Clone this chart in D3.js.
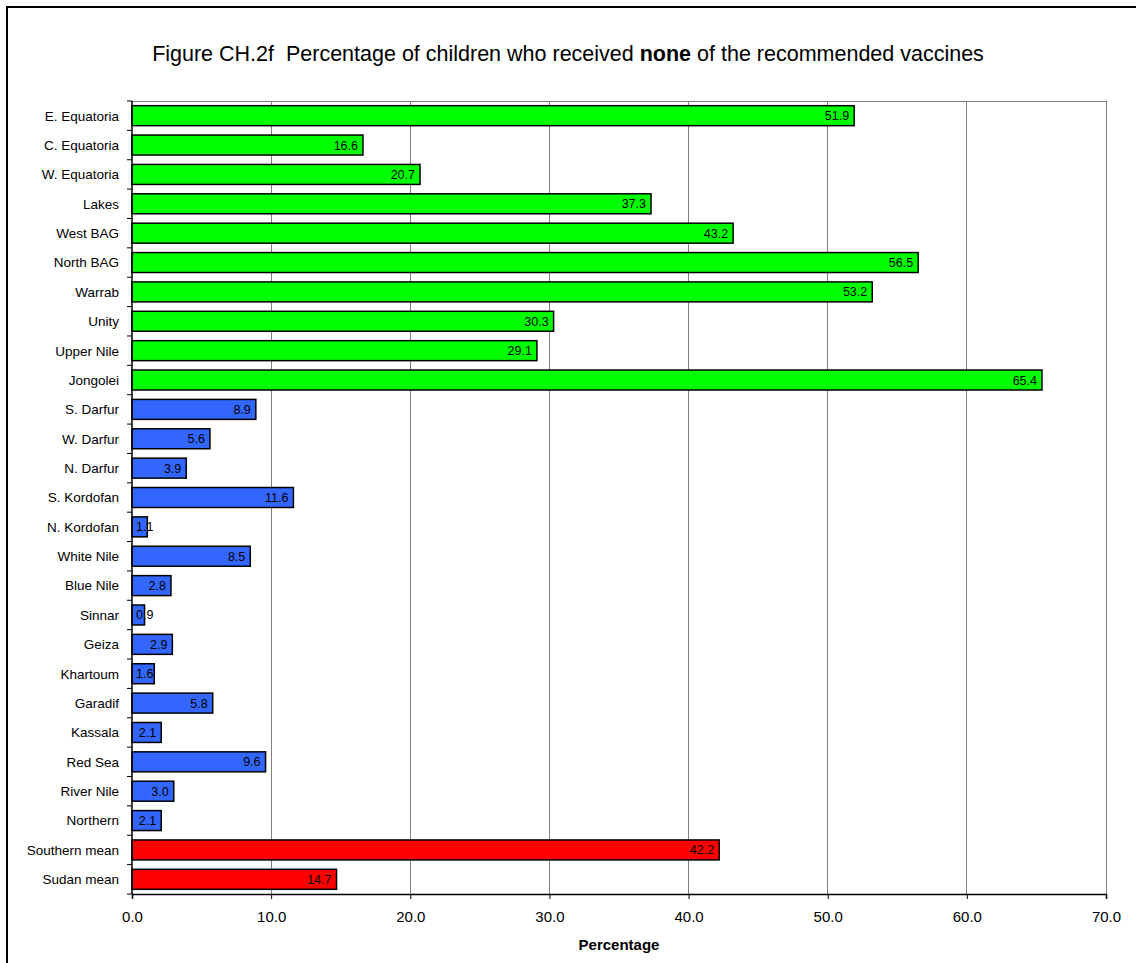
<!DOCTYPE html>
<html><head><meta charset="utf-8">
<script src="https://cdn.jsdelivr.net/npm/d3@7"></script>
<style>
html,body{margin:0;padding:0;background:#fff;}
text{font-family:"Liberation Sans",Arial,sans-serif;}
</style></head>
<body>
<svg id="chart" width="1136" height="963"></svg>
<script>
const categories = ["E. Equatoria","C. Equatoria","W. Equatoria","Lakes","West BAG","North BAG","Warrab","Unity","Upper Nile","Jongolei","S. Darfur","W. Darfur","N. Darfur","S. Kordofan","N. Kordofan","White Nile","Blue Nile","Sinnar","Geiza","Khartoum","Garadif","Kassala","Red Sea","River Nile","Northern","Southern mean","Sudan mean"];
const values = [51.9,16.6,20.7,37.3,43.2,56.5,53.2,30.3,29.1,65.4,8.9,5.6,3.9,11.6,1.1,8.5,2.8,0.9,2.9,1.6,5.8,2.1,9.6,3.0,2.1,42.2,14.7];
const groups = ["south","south","south","south","south","south","south","south","south","south","north","north","north","north","north","north","north","north","north","north","north","north","north","north","north","mean","mean"];
const xTicks = [0,10,20,30,40,50,60,70];

const colors = {south:"#00FF00", north:"#3366FF", mean:"#FF0000"};
const svg = d3.select("#chart");
const pL = 132, pR = 1106, pT = 101, pB = 894;

// outer frame
svg.append("rect").attr("x",7).attr("y",7).attr("width",1200).attr("height",1100)
  .attr("fill","none").attr("stroke","#000").attr("stroke-width",2);

// title
const title = svg.append("text").attr("x",568).attr("y",61).attr("text-anchor","middle")
  .attr("font-size",21.5).attr("fill","#000").style("white-space","pre");
title.append("tspan").text("Figure CH.2f  Percentage of children who received ");
title.append("tspan").attr("font-weight","bold").text("none");
title.append("tspan").text(" of the recommended vaccines");

const x = d3.scaleLinear().domain([0,70]).range([pL,pR]);
const y = d3.scaleBand().domain(categories).range([pT,pB]).paddingInner(0.32).paddingOuter(0.16);

// gridlines
svg.append("g").selectAll("line").data(xTicks.slice(1)).join("line")
  .attr("x1",d=>x(d)).attr("x2",d=>x(d)).attr("y1",pT).attr("y2",pB)
  .attr("stroke","#808080").attr("stroke-width",1).attr("shape-rendering","crispEdges");
svg.append("line").attr("x1",pL).attr("x2",pR).attr("y1",pT).attr("y2",pT)
  .attr("stroke","#808080").attr("shape-rendering","crispEdges");

// bars
const data = categories.map((c,i)=>({c, v:values[i], g:groups[i]}));
svg.append("g").selectAll("rect").data(data).join("rect")
  .attr("x",x(0)).attr("y",d=>y(d.c)).attr("width",d=>x(d.v)-x(0)).attr("height",y.bandwidth())
  .attr("fill",d=>colors[d.g]).attr("stroke","#000").attr("stroke-width",1.5);

// value labels
const lbl = svg.append("g").selectAll("text").data(data).join("text")
  .attr("y",d=>y(d.c)+y.bandwidth()/2).attr("dy","0.36em")
  .attr("font-size",12.5).attr("fill","#000")
  .text(d=>d.v.toFixed(1));
lbl.each(function(d){
  const w = this.getComputedTextLength();
  const bw = x(d.v)-x(0);
  const t = d3.select(this);
  if (w + 8 > bw) { t.attr("x", x(0)+4).attr("text-anchor","start"); }
  else { t.attr("x", x(d.v)-5).attr("text-anchor","end"); }
});

// left axis
const yAxisG = svg.append("g").attr("transform",`translate(${pL},0)`);
yAxisG.append("line").attr("x1",0).attr("x2",0).attr("y1",pT).attr("y2",pB).attr("stroke","#000").attr("stroke-width",1.5);
const bounds = d3.range(categories.length+1).map(i=>pT + i*(pB-pT)/categories.length);
yAxisG.selectAll("line.tk").data(bounds).join("line").attr("class","tk")
  .attr("x1",-5).attr("x2",0).attr("y1",d=>d).attr("y2",d=>d).attr("stroke","#000");
yAxisG.selectAll("text").data(categories).join("text")
  .attr("x",-13).attr("y",d=>y(d)+y.bandwidth()/2).attr("dy","0.36em")
  .attr("text-anchor","end").attr("font-size",13.5).attr("fill","#000").text(d=>d);

// bottom axis
const xAxis = d3.axisBottom(x).tickValues(xTicks).tickFormat(d3.format(".1f")).tickSize(5).tickPadding(12);
const xg = svg.append("g").attr("transform",`translate(0,${pB})`).call(xAxis);
xg.select(".domain").attr("stroke","#000").attr("stroke-width",1.5);
xg.selectAll(".tick line").attr("stroke","#000");
xg.selectAll(".tick text").attr("font-size",15).attr("fill","#000").attr("font-family","Liberation Sans, Arial, sans-serif");

svg.append("text").attr("x",(pL+pR)/2).attr("y",950).attr("text-anchor","middle")
  .attr("font-size",15).attr("font-weight","bold").attr("fill","#000").text("Percentage");
</script>
</body></html>
